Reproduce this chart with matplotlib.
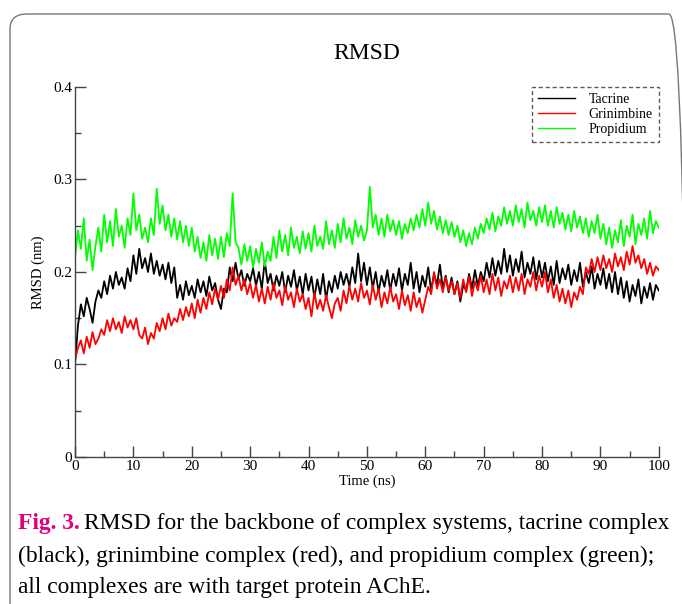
"""RMSD of the backbone for three AChE complexes (tacrine, grinimbine, propidium)."""

import numpy as np
import matplotlib
matplotlib.use('Agg')
import matplotlib.pyplot as plt
from matplotlib.patches import FancyBboxPatch
from matplotlib.ticker import MultipleLocator

plt.rcParams['font.family'] = ['Liberation Serif', 'DejaVu Serif']

tacrine = [
    0.100, 0.142, 0.165, 0.152, 0.172, 0.160, 0.145, 0.168, 0.180, 0.172,
    0.190, 0.176, 0.196, 0.182, 0.200, 0.186, 0.194, 0.182, 0.204, 0.190,
    0.218, 0.198, 0.225, 0.204, 0.215, 0.200, 0.220, 0.198, 0.212, 0.196,
    0.208, 0.192, 0.210, 0.188, 0.205, 0.172, 0.186, 0.170, 0.190, 0.175,
    0.185, 0.172, 0.192, 0.178, 0.190, 0.174, 0.195, 0.180, 0.188, 0.170,
    0.160, 0.182, 0.178, 0.205, 0.190, 0.210, 0.192, 0.202, 0.185, 0.198,
    0.190, 0.204, 0.185, 0.200, 0.182, 0.212, 0.188, 0.198, 0.180, 0.196,
    0.185, 0.200, 0.178, 0.196, 0.184, 0.202, 0.180, 0.195, 0.176, 0.198,
    0.180, 0.195, 0.172, 0.192, 0.176, 0.198, 0.170, 0.190, 0.178, 0.196,
    0.182, 0.200, 0.186, 0.198, 0.184, 0.205, 0.188, 0.220, 0.190, 0.210,
    0.186, 0.205, 0.182, 0.200, 0.178, 0.196, 0.184, 0.202, 0.180, 0.198,
    0.185, 0.204, 0.180, 0.198, 0.186, 0.210, 0.182, 0.200, 0.178, 0.196,
    0.184, 0.205, 0.180, 0.198, 0.186, 0.208, 0.182, 0.196, 0.178, 0.194,
    0.176, 0.190, 0.168, 0.186, 0.180, 0.198, 0.182, 0.202, 0.185, 0.200,
    0.190, 0.210, 0.194, 0.215, 0.196, 0.212, 0.198, 0.225, 0.200, 0.218,
    0.196, 0.214, 0.200, 0.222, 0.194, 0.210, 0.198, 0.216, 0.192, 0.212,
    0.194, 0.210, 0.190, 0.206, 0.186, 0.212, 0.188, 0.204, 0.192, 0.208,
    0.186, 0.202, 0.190, 0.210, 0.184, 0.200, 0.188, 0.206, 0.182, 0.198,
    0.186, 0.204, 0.182, 0.198, 0.178, 0.200, 0.176, 0.194, 0.172, 0.190,
    0.168, 0.186, 0.174, 0.192, 0.166, 0.184, 0.172, 0.188, 0.170, 0.186,
    0.180,
]

grinimbine = [
    0.105, 0.118, 0.126, 0.112, 0.130, 0.118, 0.135, 0.122, 0.128, 0.138,
    0.132, 0.148, 0.136, 0.150, 0.138, 0.146, 0.134, 0.152, 0.140, 0.148,
    0.138, 0.150, 0.132, 0.128, 0.140, 0.122, 0.134, 0.128, 0.145, 0.136,
    0.150, 0.138, 0.155, 0.142, 0.150, 0.146, 0.160, 0.148, 0.162, 0.152,
    0.166, 0.150, 0.170, 0.156, 0.172, 0.160, 0.178, 0.165, 0.182, 0.170,
    0.185, 0.172, 0.192, 0.180, 0.205, 0.186, 0.196, 0.180, 0.192, 0.176,
    0.188, 0.172, 0.186, 0.168, 0.182, 0.166, 0.184, 0.170, 0.188, 0.172,
    0.180, 0.164, 0.185, 0.170, 0.178, 0.162, 0.182, 0.168, 0.176, 0.160,
    0.172, 0.152, 0.178, 0.160, 0.170, 0.158, 0.175, 0.162, 0.150, 0.166,
    0.172, 0.158, 0.180, 0.166, 0.185, 0.170, 0.182, 0.168, 0.188, 0.172,
    0.180, 0.165, 0.186, 0.170, 0.182, 0.162, 0.178, 0.166, 0.184, 0.168,
    0.176, 0.160, 0.180, 0.164, 0.175, 0.158, 0.178, 0.162, 0.172, 0.156,
    0.170, 0.184, 0.176, 0.200, 0.182, 0.192, 0.178, 0.194, 0.180, 0.190,
    0.176, 0.188, 0.172, 0.192, 0.178, 0.195, 0.174, 0.190, 0.180, 0.196,
    0.178, 0.192, 0.176, 0.198, 0.180, 0.194, 0.174, 0.190, 0.182, 0.196,
    0.178, 0.194, 0.180, 0.198, 0.176, 0.192, 0.184, 0.200, 0.180, 0.196,
    0.184, 0.200, 0.178, 0.192, 0.172, 0.186, 0.168, 0.182, 0.166, 0.180,
    0.162, 0.178, 0.170, 0.184, 0.176, 0.205, 0.198, 0.214, 0.200, 0.216,
    0.202, 0.218, 0.204, 0.214, 0.200, 0.220, 0.206, 0.216, 0.202, 0.222,
    0.208, 0.228, 0.210, 0.218, 0.204, 0.214, 0.198, 0.210, 0.196, 0.206,
    0.202,
]

propidium = [
    0.215, 0.245, 0.225, 0.258, 0.212, 0.235, 0.202, 0.228, 0.248, 0.222,
    0.262, 0.232, 0.255, 0.228, 0.268, 0.238, 0.250, 0.226, 0.258, 0.240,
    0.285, 0.245, 0.262, 0.236, 0.248, 0.232, 0.258, 0.240, 0.290, 0.252,
    0.272, 0.245, 0.262, 0.238, 0.258, 0.235, 0.255, 0.232, 0.250, 0.228,
    0.248, 0.222, 0.238, 0.215, 0.232, 0.212, 0.240, 0.218, 0.236, 0.214,
    0.238, 0.216, 0.242, 0.228, 0.285, 0.232, 0.226, 0.208, 0.230, 0.212,
    0.228, 0.205, 0.225, 0.210, 0.232, 0.206, 0.222, 0.212, 0.238, 0.215,
    0.245, 0.222, 0.240, 0.218, 0.248, 0.226, 0.238, 0.220, 0.244, 0.225,
    0.242, 0.222, 0.250, 0.228, 0.238, 0.225, 0.255, 0.230, 0.245, 0.226,
    0.252, 0.232, 0.258, 0.236, 0.248, 0.230, 0.256, 0.238, 0.250, 0.234,
    0.245, 0.292, 0.248, 0.262, 0.240, 0.258, 0.238, 0.262, 0.244, 0.256,
    0.240, 0.255, 0.236, 0.252, 0.242, 0.258, 0.245, 0.262, 0.248, 0.268,
    0.250, 0.275, 0.252, 0.266, 0.246, 0.260, 0.242, 0.256, 0.240, 0.254,
    0.238, 0.250, 0.232, 0.245, 0.228, 0.242, 0.230, 0.248, 0.236, 0.252,
    0.242, 0.258, 0.246, 0.264, 0.244, 0.260, 0.250, 0.270, 0.252, 0.266,
    0.250, 0.272, 0.254, 0.268, 0.248, 0.275, 0.256, 0.266, 0.250, 0.270,
    0.254, 0.272, 0.250, 0.266, 0.248, 0.270, 0.252, 0.264, 0.246, 0.262,
    0.244, 0.266, 0.248, 0.260, 0.242, 0.258, 0.238, 0.255, 0.242, 0.262,
    0.236, 0.252, 0.230, 0.248, 0.226, 0.245, 0.232, 0.256, 0.228, 0.250,
    0.238, 0.262, 0.230, 0.252, 0.240, 0.258, 0.236, 0.266, 0.242, 0.255,
    0.248,
]

series_names = ['Tacrine', 'Grinimbine', 'Propidium']
series_colors = ['#000000', '#ff0000', '#00ff00']

time_ns = np.linspace(0, 100, len(tacrine))

fig = plt.figure(figsize=(6.82, 6.04), dpi=100)

# rounded card border of the journal figure
card = FancyBboxPatch((10 / 682, -0.05), 676 / 682, 1.05 - 14 / 604,
                      boxstyle='round,pad=0,rounding_size=0.025',
                      transform=fig.transFigure, facecolor='none',
                      edgecolor='#777777', linewidth=1.0)
fig.patches.append(card)

ax = fig.add_axes([0.110, 0.2434, 0.856, 0.6126])
ax.set_facecolor('none')

for values, name, color in zip([tacrine, grinimbine, propidium], series_names, series_colors):
    ax.plot(time_ns, values, color=color, linewidth=1.3, label=name)

ax.set_xlim(0, 100)
ax.set_ylim(0, 0.4)
ax.xaxis.set_major_locator(MultipleLocator(10))
ax.xaxis.set_minor_locator(MultipleLocator(5))
ax.yaxis.set_major_locator(MultipleLocator(0.1))
ax.yaxis.set_minor_locator(MultipleLocator(0.05))
ax.set_yticks([0, 0.1, 0.2, 0.3, 0.4], ['0', '0.1', '0.2', '0.3', '0.4'])

for side in ['top', 'right']:
    ax.spines[side].set_visible(False)
for side in ['left', 'bottom']:
    ax.spines[side].set_color('#444444')
    ax.spines[side].set_linewidth(1.0)

ax.tick_params(which='major', direction='in', length=8, width=1.0,
               color='#444444', labelsize=11, pad=2)
ax.tick_params(which='minor', direction='in', length=4, width=1.0, color='#444444')

ax.set_xlabel('Time (ns)', fontsize=10.5, labelpad=1)
ax.set_ylabel('RMSD (nm)', fontsize=10.5, labelpad=6)
ax.set_title('RMSD', fontsize=17, pad=20)

leg = ax.legend(loc='upper right', bbox_to_anchor=(1.0, 1.0), borderaxespad=0,
                fontsize=10, frameon=True, fancybox=False, handlelength=2.6,
                handletextpad=1.0, labelspacing=0.12, borderpad=0.45)
leg.get_frame().set_edgecolor('#333333')
leg.get_frame().set_linestyle((0, (3, 2)))
leg.get_frame().set_linewidth(1.0)
for line in leg.get_lines():
    line.set_linewidth(1.0)

# caption below the chart
cap_size = 16.9
fig_label = fig.text(18 / 682, 1 - 524 / 604, 'Fig. 3.', color='#e2007a',
                     fontweight='bold', fontsize=cap_size, va='center', ha='left')
renderer = fig.canvas.get_renderer()
label_end = fig_label.get_window_extent(renderer).x1
fig.text((label_end + 4) / 682, 1 - 524 / 604,
         'RMSD for the backbone of complex systems, tacrine complex',
         fontsize=cap_size, va='center', ha='left')
fig.text(18 / 682, 1 - 556 / 604,
         '(black), grinimbine complex (red), and propidium complex (green);',
         fontsize=cap_size, va='center', ha='left')
fig.text(18 / 682, 1 - 587 / 604, 'all complexes are with target protein AChE.',
         fontsize=cap_size, va='center', ha='left')

fig.savefig('out.png', dpi=100)
